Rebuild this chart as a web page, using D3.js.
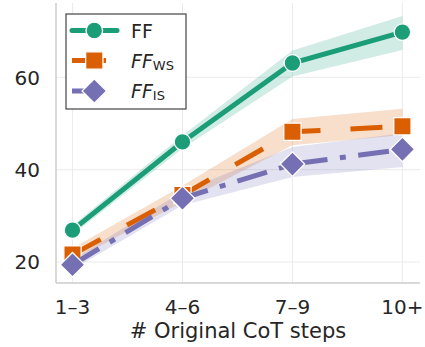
<!DOCTYPE html>
<html>
<head>
<meta charset="utf-8">
<script src="https://cdn.jsdelivr.net/npm/d3@7"></script>
<style>
  body { margin: 0; background: #fff; }
  text { font-family: "DejaVu Sans", sans-serif; fill: #262626; }
</style>
</head>
<body>
<div id="chart"></div>
<script>
// categories on the x axis
var steps = ["1\u20133", "4\u20136", "7\u20139", "10+"];
var yTicks = [20, 40, 60];

// FF
var ffMean = [26.9, 46.0, 63.1, 69.8];
var ffLow  = [25.9, 44.6, 60.2, 65.9];
var ffHigh = [27.9, 47.4, 65.8, 73.3];
// FF_WS
var wsMean = [21.6, 34.5, 48.2, 49.4];
var wsLow  = [20.3, 33.0, 45.3, 47.5];
var wsHigh = [23.0, 36.5, 51.0, 53.2];
// FF_IS
var isMean = [19.4, 33.8, 41.2, 44.4];
var isLow  = [18.4, 32.3, 38.4, 40.6];
var isHigh = [20.5, 35.3, 44.9, 47.9];

var W = 425, H = 347;
var svg = d3.select("#chart").append("svg").attr("width", W).attr("height", H);

var x = d3.scaleLinear().domain([-0.15, 3.16]).range([56, 420]);
var y = d3.scaleLinear().domain([15.45, 76.1]).range([283, 3]);

// grid
svg.append("g").selectAll("line").data(yTicks).enter().append("line")
    .attr("x1", 56).attr("x2", 420)
    .attr("y1", function(d) { return y(d); }).attr("y2", function(d) { return y(d); })
    .attr("stroke", "#ebebeb").attr("stroke-width", 1);
svg.append("g").selectAll("line").data(steps).enter().append("line")
    .attr("x1", function(d, i) { return x(i); }).attr("x2", function(d, i) { return x(i); })
    .attr("y1", 3).attr("y2", 283)
    .attr("stroke", "#ebebeb").attr("stroke-width", 1);

var series = [
    {name: "FF", sub: null, mean: ffMean, lo: ffLow, hi: ffHigh, color: "#1b9e77", dash: null, shape: "circle"},
    {name: "FF", sub: "WS", mean: wsMean, lo: wsLow, hi: wsHigh, color: "#d95f02", dash: "32,30", shape: "square"},
    {name: "FF", sub: "IS", mean: isMean, lo: isLow, hi: isHigh, color: "#7570b3", dash: "31,12.5,6,12.5", shape: "diamond"}
];

var area = d3.area()
    .x(function(d, i) { return x(i); })
    .y0(function(d) { return y(d[0]); })
    .y1(function(d) { return y(d[1]); });
var line = d3.line()
    .x(function(d, i) { return x(i); })
    .y(function(d) { return y(d); });

// bands first
series.forEach(function(s) {
    svg.append("path")
        .datum(s.lo.map(function(v, i) { return [v, s.hi[i]]; }))
        .attr("d", area)
        .attr("fill", s.color).attr("fill-opacity", 0.2);
});

function drawMarker(g, shape, color, cx, cy) {
    if (shape === "circle") {
        g.append("circle").attr("cx", cx).attr("cy", cy).attr("r", 8.3)
            .attr("fill", color).attr("stroke", "#fff").attr("stroke-width", 1.3);
    } else {
        var sym = d3.symbol().type(d3.symbolSquare).size(17.3 * 17.3);
        g.append("path").attr("d", sym())
            .attr("transform", "translate(" + cx + "," + cy + ")" + (shape === "diamond" ? " rotate(45)" : ""))
            .attr("fill", color).attr("stroke", "#fff").attr("stroke-width", 1.3);
    }
}

series.forEach(function(s) {
    var g = svg.append("g");
    g.append("path").datum(s.mean).attr("d", line)
        .attr("fill", "none").attr("stroke", s.color).attr("stroke-width", 5)
        .attr("stroke-dasharray", s.dash);
    s.mean.forEach(function(v, i) { drawMarker(g, s.shape, s.color, x(i), y(v)); });
});

// spines
svg.append("line").attr("x1", 56).attr("x2", 56).attr("y1", 3).attr("y2", 283)
    .attr("stroke", "#cccccc").attr("stroke-width", 1.5);
svg.append("line").attr("x1", 56).attr("x2", 420).attr("y1", 283).attr("y2", 283)
    .attr("stroke", "#cccccc").attr("stroke-width", 1.5);

// tick labels
svg.append("g").selectAll("text").data(yTicks).enter().append("text")
    .attr("x", 40).attr("y", function(d) { return y(d) + 7.3; })
    .attr("text-anchor", "end").attr("font-size", 20)
    .text(function(d) { return d; });
svg.append("g").selectAll("text").data(steps).enter().append("text")
    .attr("x", function(d, i) { return x(i); }).attr("y", 314)
    .attr("text-anchor", "middle").attr("font-size", 20)
    .text(function(d) { return d; });
svg.append("text").attr("x", 238).attr("y", 337.5)
    .attr("text-anchor", "middle").attr("font-size", 21)
    .text("# Original CoT steps");

// legend
var leg = svg.append("g");
leg.append("rect").attr("x", 66).attr("y", 14).attr("width", 120).attr("height", 95)
    .attr("fill", "#fff").attr("stroke", "#444").attr("stroke-width", 1.2);
var legY = [30.5, 60.5, 91];
series.forEach(function(s, i) {
    var ly = legY[i];
    leg.append("line").attr("x1", 72).attr("x2", 117).attr("y1", ly).attr("y2", ly)
        .attr("stroke", s.color).attr("stroke-width", 5)
        .attr("stroke-linecap", s.dash ? "butt" : "round")
        .attr("stroke-dasharray", s.dash ? (i === 1 ? "34,30" : "33,12.5,6,12.5") : null);
    drawMarker(leg, s.shape, s.color, 94.3, ly);
    var t = leg.append("text").attr("x", 131).attr("y", ly + 7).attr("font-size", 19);
    if (s.sub) {
        t.append("tspan").attr("font-style", "italic").text(s.name);
        t.append("tspan").attr("font-size", 13).attr("dy", 2).text(s.sub);
    } else {
        t.text(s.name);
    }
});
</script>
</body>
</html>
